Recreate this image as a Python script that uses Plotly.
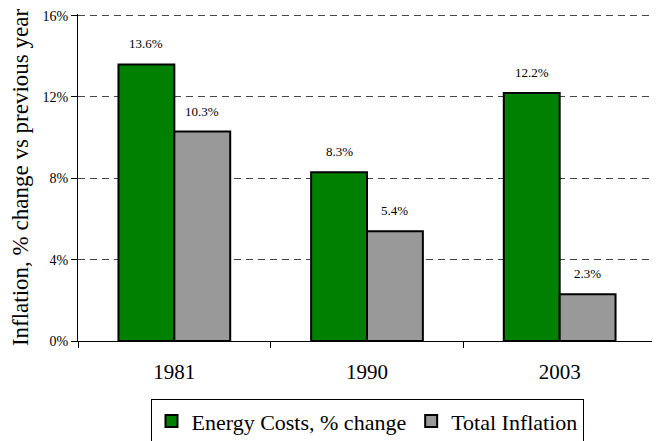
import plotly.graph_objects as go

years = ["1981", "1990", "2003"]
energy = [0.136, 0.083, 0.122]
inflation = [0.103, 0.054, 0.023]
series_names = ["Energy Costs, % change", "Total Inflation"]
colors = ["#008000", "#999999"]
y_ticks = [0, 0.04, 0.08, 0.12, 0.16]

FONT = "Liberation Serif, Times New Roman, serif"
BARGAP = 0.42

fig = go.Figure()
all_series = [energy, inflation]
for name, vals, col in zip(series_names, all_series, colors):
    fig.add_trace(go.Bar(
        x=years, y=vals, name=name,
        marker=dict(color=col, line=dict(color="black", width=2)),
    ))

# data labels placed over each bar of the group (offset derived from bar geometry)
n_series = len(all_series)
bar_w = (1 - BARGAP) / n_series
for s, vals in enumerate(all_series):
    off = -(1 - BARGAP) / 2 + bar_w * (s + 0.5)
    for i, v in enumerate(vals):
        fig.add_annotation(
            x=i + off, y=v, xref="x", yref="y",
            text=f"{v*100:.1f}%", showarrow=False,
            yanchor="bottom", yshift=11,
            font=dict(family=FONT, size=13, color="black"),
        )

# the page body adds an 8px offset, so the figure is sized to fill the rest
fig.update_layout(
    width=652, height=433,
    margin=dict(l=70, r=4, t=5.5, b=100, autoexpand=False),
    paper_bgcolor="white", plot_bgcolor="white",
    barmode="group", bargap=BARGAP, bargroupgap=0,
    font=dict(family=FONT, color="black"),
    showlegend=True,
    legend=dict(
        orientation="h", x=0.5, xanchor="center", y=-0.178, yanchor="top",
        bordercolor="black", borderwidth=1,
        font=dict(family=FONT, size=22, color="black"),
    ),
)
fig.update_xaxes(
    type="category", showline=True, linecolor="black", linewidth=1,
    ticks="outside", tickson="boundaries", ticklen=6, tickcolor="black",
    tickfont=dict(family=FONT, size=21, color="black"),
    ticklabelstandoff=12,
    showgrid=False, automargin=False,
)
fig.update_yaxes(
    range=[0, 0.1608], tickmode="array", tickvals=y_ticks, tickformat=".0%",
    showline=True, linecolor="black", linewidth=1,
    ticks="outside", ticklen=6, tickcolor="black",
    tickfont=dict(family=FONT, size=14, color="black"),
    ticklabeloverflow="allow",
    showgrid=True, gridcolor="#444444", gridwidth=1, griddash="7px,5px",
    zeroline=False, automargin=False,
    title=dict(text="Inflation, % change vs previous year",
               font=dict(family=FONT, size=23, color="black"), standoff=8),
)

fig.write_html("out.html")
